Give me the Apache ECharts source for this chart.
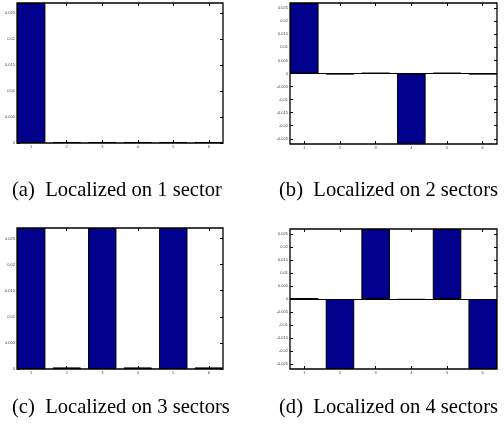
<!DOCTYPE html>
<html>
<head>
<meta charset="utf-8">
<script src="https://cdn.jsdelivr.net/npm/echarts@6/dist/echarts.min.js"></script>
<style>
  html, body { margin: 0; padding: 0; background: #fff; }
  #chart { width: 504px; height: 430px; }
</style>
</head>
<body>
<div id="chart"></div>
<script>
// Sector indices shared by all four panels
const sectors = [1, 2, 3, 4, 5, 6];

// Eigenvector components per sector
const valuesA = [0.027, 0.0002, 0.0002, 0.0002, 0.0002, 0.0002];
const valuesB = [0.027, -0.0003, 0.0002, -0.027, 0.0002, -0.0003];
const valuesC = [0.027, 0.0003, 0.027, 0.0003, 0.027, 0.0003];
const valuesD = [0.0003, -0.027, 0.027, -0.0003, 0.027, -0.027];

// Tick values for the vertical axes
const ticksPositive = [0, 0.005, 0.01, 0.015, 0.02, 0.025];
const ticksSigned = [-0.025, -0.02, -0.015, -0.01, -0.005, 0, 0.005, 0.01, 0.015, 0.02, 0.025];

// Panel captions
const captions = [
  '(a)  Localized on 1 sector',
  '(b)  Localized on 2 sectors',
  '(c)  Localized on 3 sectors',
  '(d)  Localized on 4 sectors'
];

const panels = [
  { values: valuesA, ticks: ticksPositive, yMin: 0, yMax: 0.027, grid: { left: 17, top: 3, width: 206, height: 140 }, cap: { x: 12, y: 190 } },
  { values: valuesB, ticks: ticksSigned, yMin: -0.027, yMax: 0.027, grid: { left: 290, top: 3, width: 207, height: 141 }, cap: { x: 279, y: 190 } },
  { values: valuesC, ticks: ticksPositive, yMin: 0, yMax: 0.027, grid: { left: 17, top: 228, width: 206, height: 141 }, cap: { x: 12, y: 407 } },
  { values: valuesD, ticks: ticksSigned, yMin: -0.027, yMax: 0.027, grid: { left: 290, top: 229, width: 207, height: 140 }, cap: { x: 279, y: 407 } }
];

const xMin = 0.6, xMax = 6.4;
const tickColor = '#000';
const labelStyle = { fontSize: 4, color: '#444', fontFamily: 'Liberation Sans' };

function fmt(v) {
  return String(Number(v.toFixed(4)));
}

const grid = [], xAxis = [], yAxis = [], series = [], graphic = [];

panels.forEach((p, i) => {
  grid.push(Object.assign({ show: true, borderColor: '#000', borderWidth: 1.3, backgroundColor: '#fff' }, p.grid));

  // bottom axis with sector labels
  xAxis.push({
    type: 'value', gridIndex: i, min: xMin, max: xMax, position: 'bottom',
    axisLine: { show: false, onZero: false },
    axisTick: { show: true, inside: true, length: 3, lineStyle: { color: tickColor }, customValues: sectors },
    axisLabel: Object.assign({ margin: 2, customValues: sectors, formatter: v => String(v) }, labelStyle),
    splitLine: { show: false }
  });
  // top axis: ticks only
  xAxis.push({
    type: 'value', gridIndex: i, min: xMin, max: xMax, position: 'top',
    axisLine: { show: false, onZero: false },
    axisTick: { show: true, inside: true, length: 3, lineStyle: { color: tickColor }, customValues: sectors },
    axisLabel: { show: false },
    splitLine: { show: false }
  });
  // left axis with value labels
  yAxis.push({
    type: 'value', gridIndex: i, min: p.yMin, max: p.yMax, position: 'left',
    axisLine: { show: false, onZero: false },
    axisTick: { show: true, inside: true, length: 3, lineStyle: { color: tickColor }, customValues: p.ticks },
    axisLabel: Object.assign({ margin: 2, customValues: p.ticks, formatter: fmt }, labelStyle),
    splitLine: { show: false }
  });
  // right axis: ticks only
  yAxis.push({
    type: 'value', gridIndex: i, min: p.yMin, max: p.yMax, position: 'right',
    axisLine: { show: false, onZero: false },
    axisTick: { show: true, inside: true, length: 3, lineStyle: { color: tickColor }, customValues: p.ticks },
    axisLabel: { show: false },
    splitLine: { show: false }
  });

  const barWidth = 0.8 * p.grid.width / (xMax - xMin);
  const s = {
    type: 'bar',
    xAxisIndex: 2 * i,
    yAxisIndex: 2 * i,
    barWidth: barWidth,
    data: sectors.map((c, k) => [c, p.values[k]]),
    itemStyle: { color: '#00008C', borderColor: '#000', borderWidth: 1 },
    emphasis: { disabled: true },
    silent: true,
    animation: false
  };
  if (p.yMin < 0) {
    s.markLine = {
      silent: true, symbol: 'none', label: { show: false },
      lineStyle: { color: '#000', width: 1, type: 'solid' },
      data: [{ yAxis: 0 }]
    };
  }
  series.push(s);

  graphic.push({
    type: 'text', left: p.cap.x, top: p.cap.y - 10,
    style: { text: captions[i], font: '20.6px "Liberation Serif"', fill: '#000' }
  });
});

const chart = echarts.init(document.getElementById('chart'), null, { renderer: 'canvas' });
chart.setOption({
  backgroundColor: '#fff',
  animation: false,
  grid, xAxis, yAxis, series, graphic
});
</script>
</body>
</html>
